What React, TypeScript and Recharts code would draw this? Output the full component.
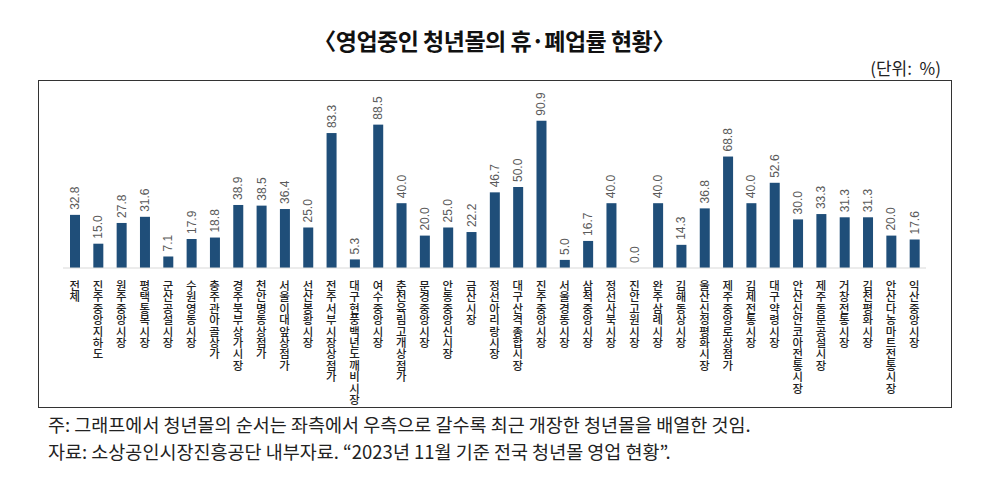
import { BarChart, Bar, XAxis, YAxis } from "recharts";

const malls = [
  "전체",
  "진주중앙지하도",
  "원주중앙시장",
  "평택통복시장",
  "군산공설시장",
  "수원영동시장",
  "충주관아골상가",
  "경주북부상가시장",
  "천안명동상점가",
  "서울이대앞상점가",
  "선산봉황시장",
  "전주서부시장상점가",
  "대구현풍백년도깨비시장",
  "여수중앙시장",
  "춘천육림고개상점가",
  "문경중앙시장",
  "안동중앙신시장",
  "금산시장",
  "정선아리랑시장",
  "대구산격종합시장",
  "진주중앙시장",
  "서울경동시장",
  "삼척중앙시장",
  "정선사북시장",
  "진안고원시장",
  "완주삼례시장",
  "김해동상시장",
  "울산신정평화시장",
  "제주중앙로상점가",
  "김제전통시장",
  "대구약령시장",
  "안산신안코아전통시장",
  "제주동문공설시장",
  "거창전통시장",
  "김천평화시장",
  "안산다농마트전통시장",
  "익산중앙시장",
];

const closureRate = [
  32.8, 15.0, 27.8, 31.6, 7.1, 17.9, 18.8, 38.9, 38.5, 36.4, 25.0, 83.3, 5.3,
  88.5, 40.0, 20.0, 25.0, 22.2, 46.7, 50.0, 90.9, 5.0, 16.7, 40.0, 0.0, 40.0,
  14.3, 36.8, 68.8, 40.0, 52.6, 30.0, 33.3, 31.3, 31.3, 20.0, 17.6,
];

const data = malls.map((name, i) => ({ name, rate: closureRate[i] }));

const KR = '"Noto Sans CJK KR", "Noto Sans", sans-serif';

// hangul written top to bottom under each bar
const StackedTick = (props: any) => {
  const { x, y, payload } = props;
  return (
    <text
      x={x}
      y={y + 4}
      textAnchor="start"
      fontFamily={KR}
      fontSize={11.4}
      fontWeight={500}
      fill="#222"
      style={{ writingMode: "vertical-rl", textOrientation: "upright" } as any}
    >
      {payload.value}
    </text>
  );
};

// bar + rotated value label (drawn here so the 0.0 bar still gets its label)
const BarWithLabel = (props: any) => {
  const { x, y, width, height, fill, payload } = props;
  const cx = x + width / 2;
  const ty = y - 5;
  return (
    <g>
      {height > 0 && <rect x={x} y={y} width={width} height={height} fill={fill} />}
      <text
        x={cx}
        y={ty}
        transform={`rotate(-90 ${cx} ${ty})`}
        textAnchor="start"
        dominantBaseline="central"
        fontFamily='"Liberation Sans", Arial, sans-serif'
        fontSize={12}
        fill="#5a5a5a"
      >
        {Number(payload.rate).toFixed(1)}
      </text>
    </g>
  );
};

export default function App() {
  return (
    <div
      style={{
        position: "absolute",
        left: 0,
        top: 0,
        width: 988,
        height: 488,
        background: "#fff",
        fontFamily: KR,
      }}
    >
      <div
        style={{
          position: "absolute",
          left: 0,
          width: 988,
          top: 23,
          textAlign: "center",
          fontSize: 23,
          fontWeight: 700,
          letterSpacing: -0.5,
          color: "#111",
        }}
      >
        〈영업중인 청년몰의 휴·폐업률 현황〉
      </div>
      <div
        style={{
          position: "absolute",
          right: 47,
          top: 55,
          fontSize: 17,
          color: "#222",
          whiteSpace: "pre",
        }}
      >
        (단위:  %)
      </div>
      <div
        style={{
          position: "absolute",
          left: 38,
          top: 80,
          width: 912,
          height: 326,
          border: "1.5px solid #333",
        }}
      />
      <div style={{ position: "absolute", left: 0, top: 0 }}>
        <BarChart
          width={988}
          height={488}
          data={data}
          margin={{ top: 106, right: 62, left: 63, bottom: 0 }}
          barCategoryGap={0}
        >
          <XAxis
            dataKey="name"
            interval={0}
            height={220}
            tickLine={false}
            axisLine={{ stroke: "#d9d9d9" }}
            tick={<StackedTick />}
          />
          <YAxis hide domain={[0, 100]} />
          <Bar
            dataKey="rate"
            fill="#1f4e79"
            barSize={10}
            isAnimationActive={false}
            shape={<BarWithLabel />}
          />
        </BarChart>
      </div>
      <div
        style={{
          position: "absolute",
          left: 48,
          top: 411,
          fontSize: 18.5,
          color: "#222",
          whiteSpace: "nowrap",
        }}
      >
        주: 그래프에서 청년몰의 순서는 좌측에서 우측으로 갈수록 최근 개장한 청년몰을 배열한 것임.
      </div>
      <div
        style={{
          position: "absolute",
          left: 48,
          top: 438,
          fontSize: 18.5,
          color: "#222",
          whiteSpace: "nowrap",
        }}
      >
        자료: 소상공인시장진흥공단 내부자료. “2023년 11월 기준 전국 청년몰 영업 현황”.
      </div>
    </div>
  );
}
